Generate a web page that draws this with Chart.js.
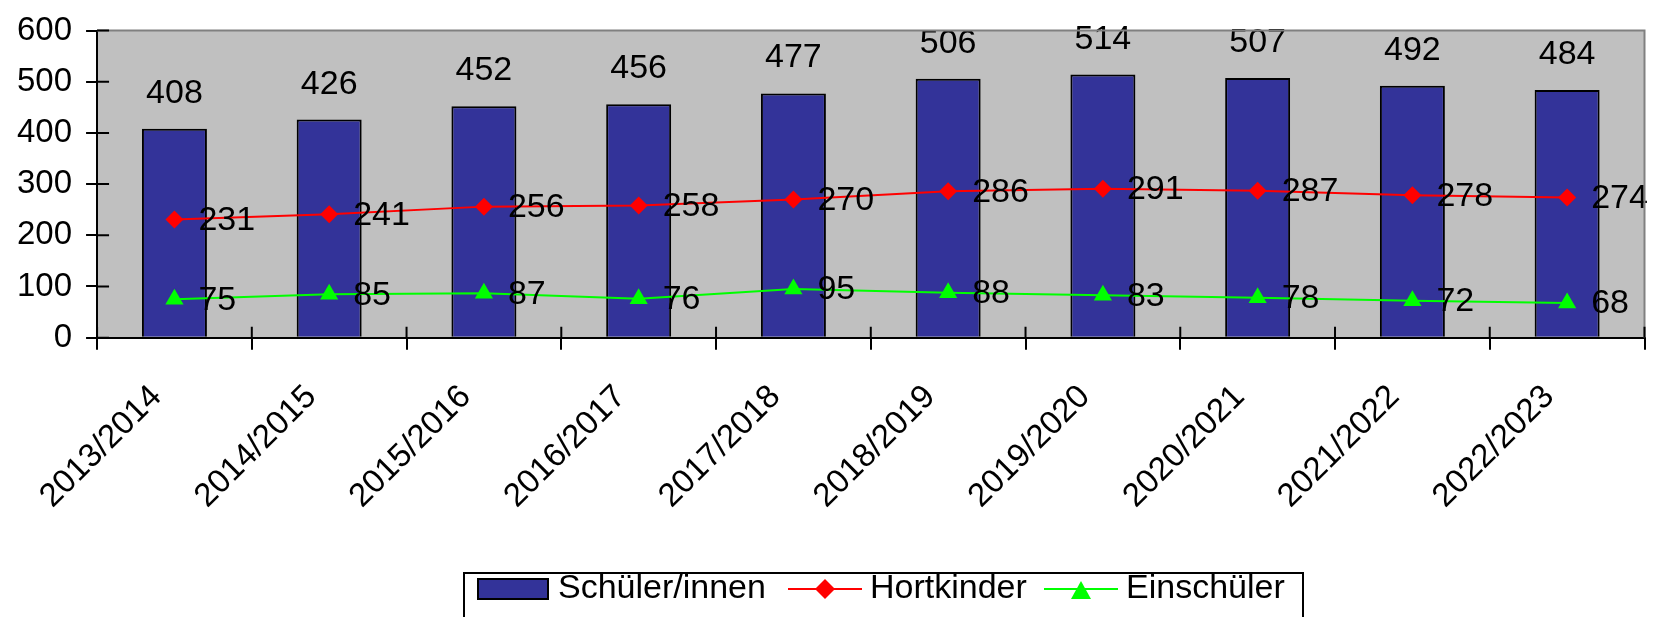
<!DOCTYPE html>
<html>
<head>
<meta charset="utf-8">
<script src="https://cdn.jsdelivr.net/npm/chart.js@4.4.0/dist/chart.umd.min.js"></script>
<style>
    html, body { margin: 0; padding: 0; background: #ffffff; }
    #wrap { width: 1655px; height: 617px; }
</style>
</head>
<body>
<div id="wrap"><canvas id="chart" width="1655" height="617"></canvas></div>
<script>
// Schuljahre und Werte
const schuljahre = ['2013/2014', '2014/2015', '2015/2016', '2016/2017', '2017/2018',
    '2018/2019', '2019/2020', '2020/2021', '2021/2022', '2022/2023'];
const schueler = [408, 426, 452, 456, 477, 506, 514, 507, 492, 484];
const hortkinder = [231, 241, 256, 258, 270, 286, 291, 287, 278, 274];
const einschueler = [75, 85, 87, 76, 95, 88, 83, 78, 72, 68];
const yMin = 0;
const yMax = 600;
const yStep = 100;

const FONT = '"Liberation Sans", Arial, sans-serif';
const TICK_SIZE = 33;
const LABEL_SIZE = 34;
const BAR_COLOR = '#333399';
const HORT_COLOR = '#ff0000';
const EIN_COLOR = '#00ff00';

Chart.defaults.font.family = FONT;
Chart.defaults.font.size = TICK_SIZE;
Chart.defaults.color = '#000000';

// grauer Hintergrund der Zeichenfläche + Rahmen oben/rechts
const plotBackground = {
    id: 'plotBackground',
    beforeDraw(chart) {
        const {ctx, chartArea: a} = chart;
        ctx.save();
        ctx.fillStyle = '#c0c0c0';
        ctx.fillRect(a.left, a.top, a.right - a.left, a.bottom - a.top);
        ctx.restore();
    },
    afterDraw(chart) {
        const {ctx, chartArea: a} = chart;
        ctx.save();
        ctx.strokeStyle = '#808080';
        ctx.lineWidth = 2;
        ctx.beginPath();
        ctx.moveTo(a.left, a.top);
        ctx.lineTo(a.right, a.top);
        ctx.lineTo(a.right, a.bottom);
        ctx.stroke();
        ctx.restore();
    }
};

// Teilstriche, die in die Zeichenfläche hineinragen
const innerTicks = {
    id: 'innerTicks',
    afterDraw(chart) {
        const {ctx, chartArea: a} = chart;
        const x = chart.scales.x;
        const y = chart.scales.y;
        const step = x.getPixelForValue(1) - x.getPixelForValue(0);
        ctx.save();
        ctx.strokeStyle = '#000000';
        ctx.lineWidth = 2;
        ctx.beginPath();
        y.ticks.forEach((t, i) => {
            const py = y.getPixelForTick(i);
            ctx.moveTo(a.left, py);
            ctx.lineTo(a.left + 12, py);
        });
        for (let i = 0; i <= schuljahre.length; i++) {
            const px = x.getPixelForValue(0) - step / 2 + i * step;
            ctx.moveTo(px, a.bottom);
            ctx.lineTo(px, a.bottom - 11);
        }
        ctx.stroke();
        ctx.restore();
    }
};

// Datenbeschriftungen
const valueLabels = {
    id: 'valueLabels',
    afterDatasetsDraw(chart) {
        const {ctx} = chart;
        ctx.save();
        ctx.font = LABEL_SIZE + 'px ' + FONT;
        ctx.fillStyle = '#000000';
        chart.data.datasets.forEach((ds, di) => {
            const meta = chart.getDatasetMeta(di);
            meta.data.forEach((el, i) => {
                const v = ds.data[i];
                if (ds.type === 'bar') {
                    ctx.textAlign = 'center';
                    ctx.textBaseline = 'alphabetic';
                    ctx.fillText(String(v), el.x, el.y - 26);
                } else {
                    ctx.textAlign = 'left';
                    ctx.textBaseline = 'middle';
                    ctx.fillText(String(v), el.x + 24, el.y + 1);
                }
            });
        });
        ctx.restore();
    }
};

// Legende im Excel-Stil
const boxLegend = {
    id: 'boxLegend',
    afterDraw(chart) {
        const {ctx} = chart;
        const ds = chart.data.datasets;
        const cy = 589;
        ctx.save();
        ctx.font = LABEL_SIZE + 'px ' + FONT;
        ctx.textAlign = 'left';
        ctx.textBaseline = 'middle';
        ctx.lineWidth = 2;

        // Rahmen
        ctx.strokeStyle = '#000000';
        ctx.strokeRect(464, 573, 1303 - 464, 60);

        // Schüler/innen
        ctx.fillStyle = BAR_COLOR;
        ctx.fillRect(478, 579, 70, 20);
        ctx.strokeRect(478, 579, 70, 20);
        ctx.fillStyle = '#000000';
        ctx.fillText(ds[0].label, 558, cy);

        // Hortkinder
        ctx.strokeStyle = HORT_COLOR;
        ctx.beginPath();
        ctx.moveTo(788, cy);
        ctx.lineTo(862, cy);
        ctx.stroke();
        ctx.fillStyle = HORT_COLOR;
        ctx.beginPath();
        ctx.moveTo(825 - 10, cy);
        ctx.lineTo(825, cy - 10);
        ctx.lineTo(825 + 10, cy);
        ctx.lineTo(825, cy + 10);
        ctx.closePath();
        ctx.fill();
        ctx.fillStyle = '#000000';
        ctx.fillText(ds[1].label, 870, cy);

        // Einschüler
        ctx.strokeStyle = EIN_COLOR;
        ctx.beginPath();
        ctx.moveTo(1044, cy);
        ctx.lineTo(1118, cy);
        ctx.stroke();
        ctx.fillStyle = EIN_COLOR;
        ctx.beginPath();
        ctx.moveTo(1081, cy - 8);
        ctx.lineTo(1081 + 10, cy + 10);
        ctx.lineTo(1081 - 10, cy + 10);
        ctx.closePath();
        ctx.fill();
        ctx.fillStyle = '#000000';
        ctx.fillText(ds[2].label, 1126, cy);
        ctx.restore();
    }
};

const chart = new Chart(document.getElementById('chart'), {
    data: {
        labels: schuljahre,
        datasets: [{
            type: 'bar',
            label: 'Schüler/innen',
            data: schueler,
            backgroundColor: BAR_COLOR,
            borderColor: '#000000',
            borderWidth: 2,
            barPercentage: 0.42,
            categoryPercentage: 1,
            order: 3
        }, {
            type: 'line',
            label: 'Hortkinder',
            data: hortkinder,
            borderColor: HORT_COLOR,
            backgroundColor: HORT_COLOR,
            borderWidth: 2,
            pointStyle: 'rectRot',
            pointRadius: 9,
            pointBorderWidth: 0,
            tension: 0,
            order: 1
        }, {
            type: 'line',
            label: 'Einschüler',
            data: einschueler,
            borderColor: EIN_COLOR,
            backgroundColor: EIN_COLOR,
            borderWidth: 2,
            pointStyle: 'triangle',
            pointRadius: 10.5,
            pointBorderWidth: 0,
            tension: 0,
            order: 2
        }]
    },
    options: {
        responsive: false,
        animation: false,
        devicePixelRatio: 1,
        layout: {
            padding: {top: 21, right: 0, left: 3, bottom: 73}
        },
        plugins: {
            legend: {display: false},
            tooltip: {enabled: false}
        },
        scales: {
            x: {
                type: 'category',
                border: {display: true, color: '#000000', width: 2},
                grid: {
                    offset: true,
                    drawOnChartArea: false,
                    tickLength: 12,
                    color: '#000000',
                    lineWidth: 2
                },
                ticks: {
                    autoSkip: false,
                    minRotation: 45,
                    maxRotation: 45,
                    padding: 28,
                    labelOffset: -18,
                    color: '#000000',
                    font: {size: TICK_SIZE}
                }
            },
            y: {
                min: yMin,
                max: yMax,
                border: {display: true, color: '#000000', width: 2},
                grid: {
                    drawOnChartArea: false,
                    tickLength: 11,
                    color: '#000000',
                    lineWidth: 2
                },
                ticks: {
                    stepSize: yStep,
                    padding: 14,
                    color: '#000000',
                    font: {size: TICK_SIZE, lineHeight: 1.0}
                }
            }
        }
    },
    plugins: [plotBackground, innerTicks, valueLabels, boxLegend]
});
</script>
</body>
</html>
